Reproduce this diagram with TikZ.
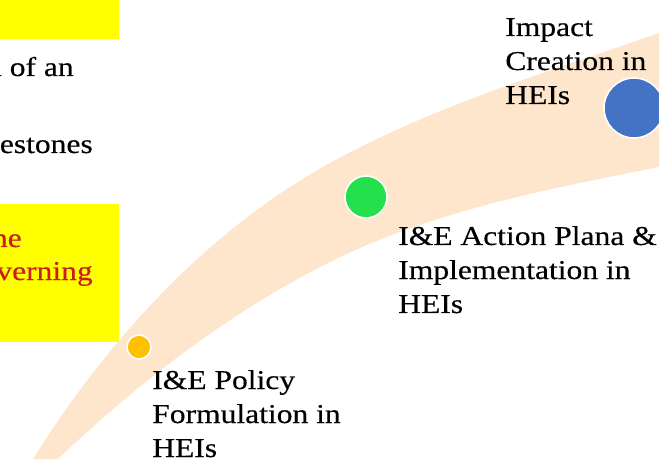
\documentclass[tikz,border=0pt]{standalone}
\usepackage{fontspec}
\setmainfont[FakeStretch=1.16,FakeBold=0.35]{Liberation Serif}
\definecolor{peach}{RGB}{253,230,204}
\definecolor{dotorange}{RGB}{255,192,0}
\definecolor{dotgreen}{RGB}{35,225,77}
\definecolor{dotblue}{RGB}{68,114,196}
\definecolor{boxyellow}{RGB}{255,255,0}
\definecolor{redtxt}{RGB}{200,30,30}
\begin{document}
\begin{tikzpicture}[x=0.75pt,y=-0.75pt,
  lbl/.style={anchor=base west,inner sep=0pt,font=\fontsize{20.4}{25.5}\selectfont},
  cut/.style={anchor=base east,inner sep=0pt,font=\fontsize{20.4}{25.5}\selectfont},
  dot/.style={circle,draw=white,line width=1.2pt,inner sep=0pt}]
\useasboundingbox (0,0) rectangle (659,459);
\clip (0,0) rectangle (659,459);
% yellow boxes
\fill[boxyellow] (-5,-5) rectangle (119,39);
\fill[boxyellow] (-5,204) rectangle (119,342);
% band
\fill[peach] (25.5,471) -- (33,459)
  .. controls (107.2,340.3) and (207.4,230.5) .. (330,163)
  .. controls (433.4,106.1) and (547.6,71.9) .. (659,33)
  -- (680,25.7) -- (680,163) -- (659,167)
  .. controls (547.2,189.3) and (431.9,211) .. (330,262)
  .. controls (229.9,312.1) and (139.2,381.8) .. (58,459)
  -- (47,469) -- cycle;
% dots
\node[dot,fill=dotorange,minimum size=18pt] (d1) at (139,347) {};
\node[dot,fill=dotgreen,minimum size=31.5pt] (d2) at (366,197) {};
\node[dot,fill=dotblue,minimum size=45pt] (d3) at (634,108) {};
% labels
\node[lbl] (l1) at (152,389) {\begin{tabular}[t]{@{}l@{}}I\&E Policy\\Formulation in\\HEIs\end{tabular}};
\node[lbl] (l2) at (398,245) {\begin{tabular}[t]{@{}l@{}}I\&E Action Plana \&\\Implementation in\\HEIs\end{tabular}};
\node[lbl] (l3) at (505,36) {\begin{tabular}[t]{@{}l@{}}Impact\\Creation in\\HEIs\end{tabular}};
% clipped texts at left
\node[cut] (t1) at (74,76) {n of an};
\node[cut] (t2) at (93,153) {estones};
\node[cut,text=redtxt] (r1) at (22,247) {ne};
\node[cut,text=redtxt] (r2) at (93,280) {verning};
\end{tikzpicture}
\end{document}
